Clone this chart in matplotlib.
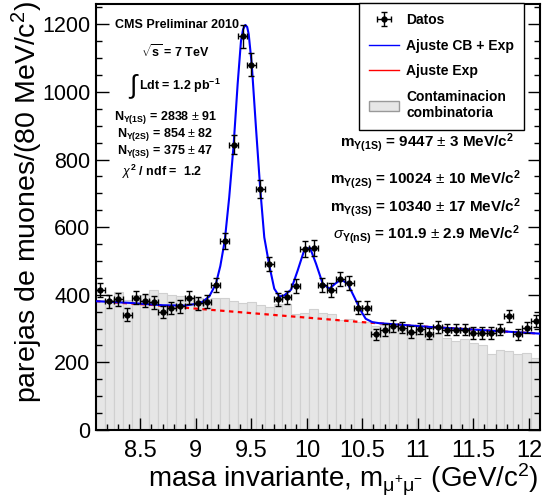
import numpy as np
import matplotlib
matplotlib.use("Agg")
import matplotlib.pyplot as plt
from matplotlib.lines import Line2D
from matplotlib.patches import Patch

plt.rcParams['font.family'] = ['Liberation Sans', 'DejaVu Sans']
plt.rcParams['mathtext.fontset'] = 'custom'
plt.rcParams['mathtext.rm'] = 'Liberation Sans'
plt.rcParams['mathtext.bf'] = 'Liberation Sans:bold'
plt.rcParams['mathtext.it'] = 'Liberation Sans:italic'

# 80 MeV bins from 8.1 to 12.1 GeV
edges = np.linspace(8.1, 12.1, 51)
centers = 0.5 * (edges[:-1] + edges[1:])

# data (pairs per bin)
datos = [415, 381, 386, 341, 391, 383, 378, 349, 361, 366,
         391, 375, 379, 428, 560, 844, 1165, 1081, 712, 491,
         386, 392, 426, 535, 538, 429, 413, 446, 435, 362,
         362, 283, 295, 307, 303, 290, 300, 285, 305, 297,
         297, 297, 287, 287, 287, 297, 337, 283, 303, 322]

# combinatorial background histogram
combinatoria = [385, 385, 408, 385, 400, 398, 413, 405, 398, 396,
                392, 390, 388, 391, 390, 382, 377, 378, 370, 364,
                372, 374, 344, 346, 359, 346, 343, 326, 327, 320,
                318, 308, 310, 305, 295, 290, 300, 290, 285, 273,
                262, 268, 256, 250, 224, 236, 234, 226, 228, 213]

# fit curve CB + Exp
fit_x = [8.10, 8.40, 8.70, 8.90, 9.00, 9.06, 9.12, 9.18, 9.22, 9.26,
         9.30, 9.34, 9.376, 9.406, 9.425, 9.445, 9.462, 9.476, 9.503, 9.541,
         9.58, 9.616, 9.661, 9.706, 9.751, 9.796, 9.857, 9.917, 9.977, 10.028,
         10.082, 10.142, 10.202, 10.256, 10.307, 10.367, 10.427, 10.487, 10.53, 10.59,
         10.65, 11.10, 11.70, 12.10]
fit_y = [381, 376, 369, 368, 373, 379, 395, 432, 485, 560,
         688, 844, 1023, 1150, 1185, 1198, 1192, 1170, 1082, 895,
         711, 570, 487, 418, 395, 398, 415, 472, 533, 539,
         492, 433, 418, 433, 445, 433, 393, 352, 329, 319,
         316, 305, 293, 285]

# exponential background part of the fit
exp_x = [8.10, 8.60, 9.00, 9.75, 10.50, 11.10, 11.70, 12.10]
exp_y = [381, 370, 359, 339, 319, 305, 293, 285]

fig = plt.figure(figsize=(5.54, 5.00), dpi=100)
ax = fig.add_axes([96/554, 70/500, 444/554, 426/500])

ax.bar(centers, combinatoria, width=0.08, color='#e6e6e6', edgecolor='#d0d0d0',
       linewidth=0.8, zorder=1)
ax.plot(exp_x, exp_y, color='red', lw=1.6, ls=(0, (2, 2)), zorder=2)
ax.plot(fit_x, fit_y, color='#0000ff', lw=1.5, zorder=3)
eb = ax.errorbar(centers, datos, yerr=np.sqrt(datos), xerr=0.04, fmt='o', color='black',
                 ms=3.5, elinewidth=1, capsize=2, capthick=1, zorder=4)

ax.set_xlim(8.1, 12.1)
ax.set_ylim(0, 1260)
ax.set_xticks([8.5, 9, 9.5, 10, 10.5, 11, 11.5, 12])
ax.set_xticklabels(['8.5', '9', '9.5', '10', '10.5', '11', '11.5', '12'])
ax.set_xticks(np.arange(8.2, 12.1, 0.1), minor=True)
ax.set_yticks([0, 200, 400, 600, 800, 1000, 1200])
ax.set_yticks(np.arange(0, 1260, 50), minor=True)
ax.tick_params(which='both', direction='in', right=True, top=False, width=1)
ax.tick_params(which='major', length=9)
ax.tick_params(which='minor', length=4.5)
ax.tick_params(axis='x', pad=7, labelsize=17)
ax.tick_params(axis='y', pad=4, labelsize=15.5)
for s in ax.spines.values():
    s.set_linewidth(1.5)

fig.text(27/554, 1 - 1/500, 'parejas de muones/(80 MeV/c$^{2}$)', rotation=90,
         ha='center', va='top', fontsize=20.5)
fig.text(539/554, 1 - 488/500, r'masa invariante, m$_{\mathrm{\mu^{+}\mu^{-}}}$ (GeV/c$^{2}$)',
         ha='right', va='baseline', fontsize=20)

# left info block
bold = dict(fontsize=9, fontweight='bold', ha='center', va='center')
fig.text(177/554, 1 - 25/500, 'CMS Preliminar 2010', **bold)
fig.text(175/554, 1 - 52/500, r'$\sqrt{\mathbf{s}}$ = 7 TeV', **bold)
fig.text(134/554, 1 - 87/500, r'$\int$', fontsize=19, ha='center', va='center',
         family='DejaVu Sans')
fig.text(180/554, 1 - 86/500, r'Ldt = 1.2 pb$^{\mathbf{-1}}$', **bold)
fig.text(166/554, 1 - 118/500, r'$\mathbf{N}_{\mathbf{\Upsilon(1S)}}$ = 2838 $\pm$ 91', **bold)
fig.text(165/554, 1 - 135/500, r'$\mathbf{N}_{\mathbf{\Upsilon(2S)}}$ = 854 $\pm$ 82', **bold)
fig.text(165/554, 1 - 152/500, r'$\mathbf{N}_{\mathbf{\Upsilon(3S)}}$ = 375 $\pm$ 47', **bold)
fig.text(162/554, 1 - 172/500, r'$\chi^{\mathbf{2}}$ / ndf =  1.2', **bold)

# right info block
bold2 = dict(fontsize=11, fontweight='bold', ha='center', va='center')
fig.text(427/554, 1 - 143/500, r'$\mathbf{m}_{\mathbf{\Upsilon(1S)}}$ = 9447 $\pm$ 3 MeV/c$^{\mathbf{2}}$', **bold2)
fig.text(425/554, 1 - 180/500, r'$\mathbf{m}_{\mathbf{\Upsilon(2S)}}$ = 10024 $\pm$ 10 MeV/c$^{\mathbf{2}}$', **bold2)
fig.text(425/554, 1 - 208/500, r'$\mathbf{m}_{\mathbf{\Upsilon(3S)}}$ = 10340 $\pm$ 17 MeV/c$^{\mathbf{2}}$', **bold2)
fig.text(427/554, 1 - 235/500, r'$\sigma_{\mathbf{\Upsilon(nS)}}$ = 101.9 $\pm$ 2.9 MeV/c$^{\mathbf{2}}$', **bold2)

handles = [eb,
           Line2D([], [], color='#0000ff', lw=1),
           Line2D([], [], color='red', lw=1),
           Patch(facecolor='#e6e6e6', edgecolor='#999999')]
labels = ['Datos', 'Ajuste CB + Exp', 'Ajuste Exp', 'Contaminacion\ncombinatoria']
leg = fig.legend(handles, labels, loc='upper right', bbox_to_anchor=(524/554, 1 - 3/500),
                 prop={'size': 10, 'weight': 'bold'}, frameon=True, fancybox=False,
                 edgecolor='black', framealpha=1, borderpad=0.7, labelspacing=0.85,
                 handlelength=2.2, handletextpad=0.5, borderaxespad=0)
leg.get_frame().set_linewidth(1)
leg.set_zorder(5)

fig.savefig('out.png', dpi=100)
